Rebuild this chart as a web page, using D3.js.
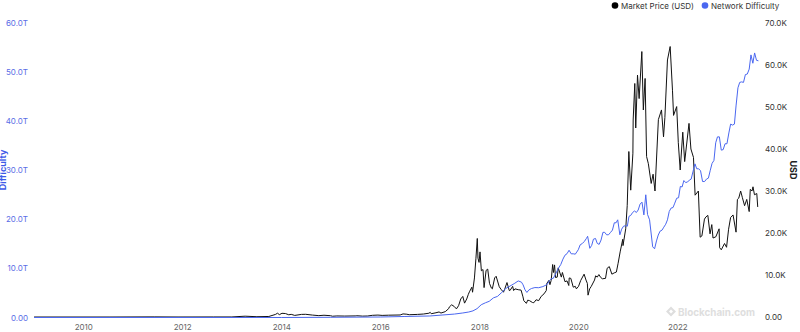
<!DOCTYPE html>
<html>
<head>
<meta charset="utf-8">
<script src="https://cdn.jsdelivr.net/npm/d3@7"></script>
<style>
  body { margin: 0; background: #fff; }
  svg { display: block; font-family: Inter, "Noto Sans", sans-serif; }
</style>
</head>
<body>
<script>
// market price, USD
const marketPrice = [
  ["2009-01-03", 0], ["2010-07-17", 0.05], ["2011-06-08", 27], ["2011-12-01", 3],
  ["2012-08-17", 12], ["2013-01-01", 13], ["2013-04-09", 190], ["2013-07-05", 70],
  ["2013-10-01", 125], ["2013-11-18", 600], ["2013-12-04", 900], ["2013-12-18", 560],
  ["2014-01-06", 880], ["2014-02-01", 820], ["2014-02-25", 530], ["2014-03-15", 630],
  ["2014-04-10", 380], ["2014-05-30", 620], ["2014-06-30", 640], ["2014-08-18", 460],
  ["2014-10-05", 320], ["2014-11-12", 420], ["2014-12-30", 310], ["2015-01-14", 180],
  ["2015-02-15", 250], ["2015-04-14", 220], ["2015-06-30", 260], ["2015-07-12", 300],
  ["2015-08-24", 210], ["2015-10-01", 240], ["2015-11-04", 400], ["2015-12-15", 460],
  ["2016-01-15", 380], ["2016-03-01", 430], ["2016-05-27", 480], ["2016-06-17", 730],
  ["2016-07-15", 660], ["2016-08-02", 540], ["2016-10-01", 615], ["2016-11-15", 710],
  ["2016-12-25", 900], ["2017-01-04", 1100], ["2017-01-11", 780], ["2017-02-15", 1010],
  ["2017-03-10", 1200], ["2017-03-24", 940], ["2017-04-25", 1280], ["2017-05-20", 2000],
  ["2017-05-25", 2400], ["2017-06-11", 2900], ["2017-06-30", 2500], ["2017-07-16", 1930],
  ["2017-08-01", 2700], ["2017-08-17", 4300], ["2017-09-01", 4900], ["2017-09-14", 3300],
  ["2017-09-30", 4300], ["2017-10-12", 5400], ["2017-10-20", 6000], ["2017-11-07", 7100],
  ["2017-11-12", 5900], ["2017-11-26", 9300], ["2017-12-07", 14000], ["2017-12-17", 18700],
  ["2017-12-22", 14000], ["2017-12-30", 13000], ["2018-01-06", 15500], ["2018-01-16", 11000],
  ["2018-01-28", 11300], ["2018-02-05", 7000], ["2018-02-20", 11100], ["2018-03-04", 11400],
  ["2018-03-17", 8000], ["2018-03-31", 6900], ["2018-04-07", 6700], ["2018-04-24", 9300],
  ["2018-05-05", 9700], ["2018-05-28", 7200], ["2018-06-10", 6600], ["2018-06-28", 5900],
  ["2018-07-08", 6700], ["2018-07-24", 8200], ["2018-08-10", 6300], ["2018-08-15", 6300],
  ["2018-09-04", 7300], ["2018-09-11", 6300], ["2018-09-21", 6700], ["2018-10-15", 6500],
  ["2018-11-05", 6400], ["2018-11-19", 4800], ["2018-11-25", 3900], ["2018-12-14", 3250],
  ["2018-12-24", 4000], ["2019-01-06", 3900], ["2019-01-28", 3450], ["2019-02-07", 3400],
  ["2019-02-24", 4100], ["2019-03-15", 3900], ["2019-04-02", 4900], ["2019-04-23", 5500],
  ["2019-05-10", 6300], ["2019-05-14", 8000], ["2019-05-29", 8700], ["2019-06-06", 7700],
  ["2019-06-15", 8700], ["2019-06-26", 12500], ["2019-07-02", 10600], ["2019-07-10", 12400],
  ["2019-07-17", 9400], ["2019-07-30", 9500], ["2019-08-06", 11700], ["2019-08-29", 9500],
  ["2019-09-06", 10600], ["2019-09-25", 8400], ["2019-10-10", 8600], ["2019-10-23", 7500],
  ["2019-10-26", 9300], ["2019-11-07", 9200], ["2019-11-25", 7100], ["2019-12-10", 7300],
  ["2019-12-18", 6700], ["2020-01-03", 7300], ["2020-01-19", 8700], ["2020-02-13", 10200],
  ["2020-02-27", 8800], ["2020-03-08", 8000], ["2020-03-13", 5200], ["2020-03-25", 6700],
  ["2020-04-06", 7300], ["2020-04-30", 8800], ["2020-05-08", 9800], ["2020-05-20", 9500],
  ["2020-06-01", 10100], ["2020-06-15", 9400], ["2020-06-27", 9100], ["2020-07-20", 9200],
  ["2020-08-01", 11600], ["2020-08-17", 12000], ["2020-09-05", 10200], ["2020-09-22", 10500],
  ["2020-10-08", 10700], ["2020-10-21", 12800], ["2020-11-05", 15500], ["2020-11-24", 18500],
  ["2020-11-26", 17000], ["2020-12-16", 21000], ["2020-12-27", 26500], ["2021-01-08", 39400],
  ["2021-01-22", 30200], ["2021-02-07", 39000], ["2021-02-09", 46900], ["2021-02-21", 55600],
  ["2021-02-28", 45000], ["2021-03-13", 57600], ["2021-03-25", 52000], ["2021-04-14", 63200],
  ["2021-04-25", 49300], ["2021-05-08", 56800], ["2021-05-19", 38200], ["2021-06-01", 36500],
  ["2021-06-22", 31800], ["2021-07-06", 34000], ["2021-07-20", 30000], ["2021-08-14", 47000],
  ["2021-09-06", 49300], ["2021-09-21", 42900], ["2021-10-01", 47500], ["2021-10-20", 61200],
  ["2021-11-09", 64400], ["2021-11-26", 54000], ["2021-12-04", 48000], ["2021-12-27", 50100],
  ["2022-01-08", 41500], ["2022-01-22", 35000], ["2022-02-10", 44000], ["2022-02-24", 37000],
  ["2022-03-28", 46100], ["2022-04-11", 40000], ["2022-04-30", 38000], ["2022-05-12", 29000],
  ["2022-06-05", 30000], ["2022-06-18", 19000], ["2022-07-01", 19300], ["2022-07-20", 23300],
  ["2022-07-30", 23800], ["2022-08-14", 24200], ["2022-08-30", 19800], ["2022-09-12", 22000],
  ["2022-09-21", 18800], ["2022-10-12", 19100], ["2022-11-05", 21000], ["2022-11-09", 16500],
  ["2022-11-21", 16000], ["2022-12-15", 17500], ["2022-12-30", 16600], ["2023-01-14", 20900],
  ["2023-01-29", 23700], ["2023-02-16", 24300], ["2023-03-10", 20200], ["2023-03-20", 28000],
  ["2023-03-30", 28300], ["2023-04-13", 30000], ["2023-04-26", 28400], ["2023-05-12", 26500],
  ["2023-05-28", 28000], ["2023-06-15", 25100], ["2023-06-23", 30400], ["2023-07-06", 30000],
  ["2023-07-13", 31000], ["2023-07-24", 29100], ["2023-08-10", 29400], ["2023-08-17", 26200]
];

// network difficulty, trillions
const networkDifficulty = [
  ["2009-01-03", 0], ["2014-01-01", 0.0014], ["2015-01-01", 0.04], ["2016-01-01", 0.1],
  ["2016-07-01", 0.21], ["2017-01-01", 0.31], ["2017-04-01", 0.5], ["2017-07-01", 0.7],
  ["2017-09-01", 0.92], ["2017-10-15", 1.12], ["2017-11-15", 1.35], ["2017-12-15", 1.8],
  ["2018-01-15", 2.6], ["2018-02-15", 3.0], ["2018-03-15", 3.3], ["2018-04-15", 4.0],
  ["2018-05-15", 4.3], ["2018-06-15", 5.1], ["2018-07-15", 5.9], ["2018-08-15", 6.4],
  ["2018-09-15", 6.9], ["2018-10-15", 7.45], ["2018-11-08", 7.2], ["2018-11-20", 6.65],
  ["2018-12-04", 5.65], ["2018-12-18", 5.1], ["2019-01-01", 5.6], ["2019-01-20", 5.9],
  ["2019-02-15", 6.1], ["2019-03-15", 6.07], ["2019-04-15", 6.3], ["2019-05-15", 6.7],
  ["2019-06-01", 7.45], ["2019-06-15", 7.9], ["2019-07-01", 8.0], ["2019-07-20", 9.0],
  ["2019-08-05", 9.9], ["2019-08-25", 10.8], ["2019-09-10", 11.9], ["2019-09-25", 12.7],
  ["2019-10-10", 13.0], ["2019-10-25", 13.7], ["2019-11-10", 12.97], ["2019-11-25", 12.98],
  ["2019-12-10", 12.9], ["2020-01-01", 13.8], ["2020-01-15", 14.8], ["2020-02-01", 15.1],
  ["2020-02-15", 15.5], ["2020-03-01", 16.1], ["2020-03-10", 16.55], ["2020-03-26", 14.1],
  ["2020-04-09", 14.7], ["2020-04-22", 15.96], ["2020-05-07", 16.1], ["2020-05-20", 15.1],
  ["2020-06-03", 14.9], ["2020-06-17", 15.78], ["2020-07-01", 17.35], ["2020-07-14", 17.35],
  ["2020-07-28", 16.85], ["2020-08-11", 16.85], ["2020-08-25", 17.3], ["2020-09-09", 17.8],
  ["2020-09-23", 19.3], ["2020-10-06", 19.3], ["2020-10-18", 19.9], ["2020-11-03", 16.85],
  ["2020-11-16", 18.0], ["2020-11-30", 18.6], ["2020-12-14", 18.7], ["2020-12-28", 18.6],
  ["2021-01-09", 20.6], ["2021-01-22", 20.8], ["2021-02-05", 21.4], ["2021-02-19", 21.7],
  ["2021-03-05", 21.4], ["2021-03-18", 21.9], ["2021-04-01", 23.1], ["2021-04-15", 23.5],
  ["2021-04-29", 20.9], ["2021-05-13", 25.0], ["2021-05-26", 21.0], ["2021-06-10", 19.9],
  ["2021-07-03", 14.4], ["2021-07-17", 14.0], ["2021-07-31", 15.6], ["2021-08-13", 16.8],
  ["2021-08-27", 17.6], ["2021-09-10", 17.8], ["2021-09-23", 18.4], ["2021-10-07", 19.0],
  ["2021-10-20", 19.9], ["2021-11-02", 21.6], ["2021-11-16", 22.3], ["2021-11-30", 22.4],
  ["2021-12-13", 23.3], ["2021-12-27", 24.3], ["2022-01-10", 24.4], ["2022-01-23", 26.7],
  ["2022-02-05", 26.6], ["2022-02-18", 27.9], ["2022-03-03", 27.5], ["2022-03-17", 27.6],
  ["2022-03-31", 28.0], ["2022-04-13", 28.2], ["2022-04-27", 29.8], ["2022-05-11", 31.3],
  ["2022-05-24", 30.3], ["2022-06-07", 30.3], ["2022-06-21", 29.9], ["2022-07-06", 27.7],
  ["2022-07-21", 27.7], ["2022-08-04", 28.2], ["2022-08-18", 28.4], ["2022-09-01", 30.0],
  ["2022-09-14", 31.4], ["2022-09-28", 32.0], ["2022-10-11", 35.6], ["2022-10-24", 36.8],
  ["2022-11-07", 36.8], ["2022-11-21", 34.1], ["2022-12-05", 34.2], ["2022-12-19", 35.4],
  ["2023-01-02", 35.4], ["2023-01-16", 37.6], ["2023-01-29", 39.4], ["2023-02-12", 39.2],
  ["2023-02-26", 39.4], ["2023-03-10", 43.1], ["2023-03-24", 46.8], ["2023-04-06", 47.9],
  ["2023-04-20", 48.0], ["2023-05-04", 47.9], ["2023-05-18", 49.5], ["2023-06-01", 49.6],
  ["2023-06-15", 50.6], ["2023-06-28", 53.5], ["2023-07-12", 51.8], ["2023-07-25", 53.9],
  ["2023-08-08", 52.4], ["2023-08-22", 52.3]
];

const tickYears = [2010, 2012, 2014, 2016, 2018, 2020, 2022];
const leftTicks = [0, 10, 20, 30, 40, 50, 60];
const rightTicks = [0, 10000, 20000, 30000, 40000, 50000, 60000, 70000];
const legendItems = ["Market Price (USD)", "Network Difficulty"];

const W = 800, H = 332;
const blue = '#4a67f0';
const parse = d3.utcParse('%Y-%m-%d');

const svg = d3.select('body').append('svg').
attr('width', W).
attr('height', H);

const x = d3.scaleUtc().
domain([new Date(Date.UTC(2009, 0, 1)), new Date(Date.UTC(2024, 0, 1))]).
range([33.8, 33.8 + 15 * 49.5]);

const yL = d3.scaleLinear().domain([0, 60]).range([317.5, 23]);
const yR = d3.scaleLinear().domain([0, 70000]).range([317, 23]);

// watermark
const wm = svg.append('g').attr('transform', 'translate(671,311.5)');
wm.append('path').
attr('d', 'M0,-5 L5,0 L0,5 L-5,0 Z M0,-2 L2,0 L0,2 L-2,0 Z').
attr('fill', '#dedede').
attr('fill-rule', 'evenodd');
wm.append('text').
attr('x', 7).
attr('y', 4).
attr('textLength', 77).
attr('lengthAdjust', 'spacingAndGlyphs').
text('Blockchain.com').
style('font-size', '10.5px').
style('font-weight', 700).
style('fill', '#dedede');

// axes (labels only)
const xAxis = d3.axisBottom(x).
tickValues(tickYears.map(yr => new Date(Date.UTC(yr, 0, 1)))).
tickFormat(d3.utcFormat('%Y')).
tickSize(0).tickPadding(0);
const gx = svg.append('g').attr('transform', 'translate(0,324)').call(xAxis);
gx.select('.domain').remove();
gx.selectAll('text').attr('dy', '0.71em').style('fill', '#666').style('font-size', '8px').style('font-family', 'Inter, sans-serif');

const lAxis = d3.axisLeft(yL).tickValues(leftTicks).
tickFormat(d => d === 0 ? '0.00' : d.toFixed(1) + 'T').
tickSize(0).tickPadding(0);
const gl = svg.append('g').attr('transform', 'translate(28,0)').call(lAxis);
gl.select('.domain').remove();
gl.selectAll('text').style('fill', '#5a6de6').style('font-size', '8px').style('font-family', 'Inter, sans-serif');

const rAxis = d3.axisRight(yR).tickValues(rightTicks).
tickFormat(d => d === 0 ? '0.00' : (d / 1000).toFixed(1) + 'K').
tickSize(0).tickPadding(0);
const gr = svg.append('g').attr('transform', 'translate(765,0)').call(rAxis);
gr.select('.domain').remove();
gr.selectAll('text').style('fill', '#333').style('font-size', '8px').style('font-family', 'Inter, sans-serif');

// axis titles
svg.append('text').
attr('transform', 'translate(5.5,170) rotate(-90)').
attr('text-anchor', 'middle').
text('Difficulty').
style('font-size', '9px').
style('font-weight', 700).
style('fill', '#3d5ae8');

svg.append('text').
attr('transform', 'translate(789.5,170) rotate(90)').
attr('text-anchor', 'middle').
text('USD').
style('font-size', '9px').
style('font-weight', 700).
style('fill', '#222');

// lines
const priceLine = d3.line().x(d => x(parse(d[0]))).y(d => yR(d[1]));
const diffLine = d3.line().x(d => x(parse(d[0]))).y(d => yL(d[1]));

svg.append('path').
datum(marketPrice).
attr('d', priceLine).
attr('fill', 'none').
attr('stroke', '#111').
attr('stroke-width', 1).
attr('stroke-linejoin', 'round');

svg.append('path').
datum(networkDifficulty).
attr('d', diffLine).
attr('fill', 'none').
attr('stroke', blue).
attr('stroke-width', 1).
attr('stroke-linejoin', 'round');

// legend
const legendX = [615, 705];
const legendColor = ['#000', blue];
const lg = svg.selectAll('.legend').
data(legendItems).
enter().append('g').
attr('class', 'legend').
attr('transform', (d, i) => `translate(${legendX[i]},5.5)`);

lg.append('circle').attr('r', 3.3).style('fill', (d, i) => legendColor[i]);
lg.append('text').
attr('x', 6).
attr('y', 3).
text(d => d).
style('font-size', '8px').
style('fill', '#333');
</script>
</body>
</html>
